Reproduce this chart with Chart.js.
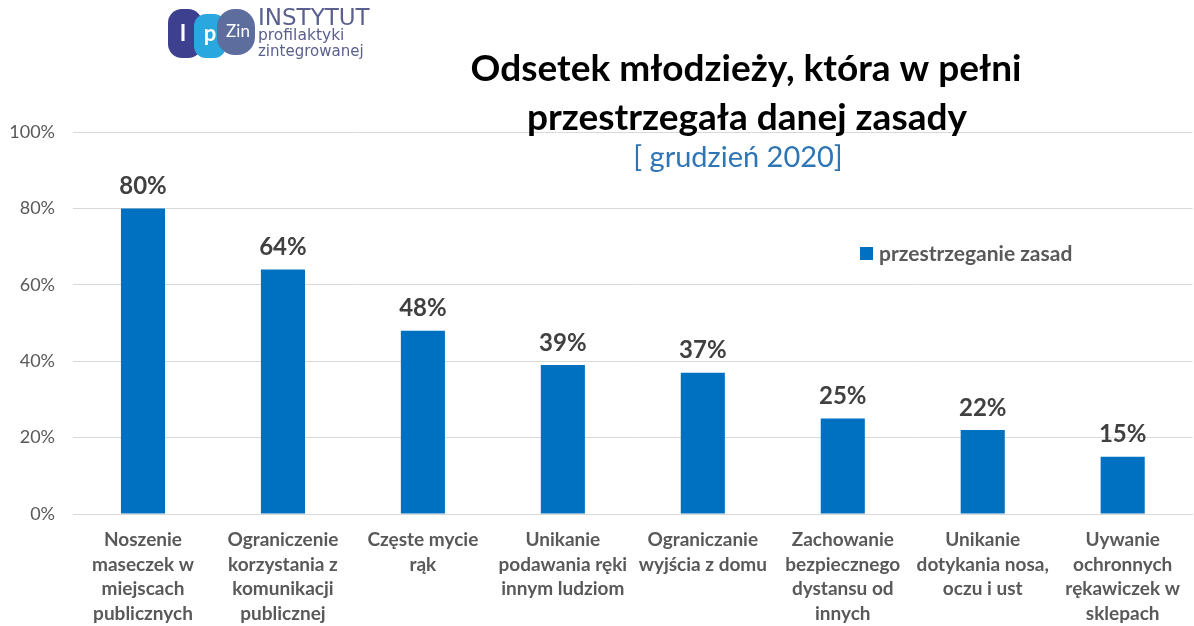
<!DOCTYPE html>
<html>
<head>
<meta charset="utf-8">
<script src="https://cdn.jsdelivr.net/npm/chart.js@4/dist/chart.umd.min.js"></script>
<style>
  html, body { margin: 0; padding: 0; background: #fff; }
  #wrap { width: 1194px; height: 626px; position: relative; }
</style>
</head>
<body>
<div id="wrap"><canvas id="chart"></canvas></div>
<script>
const categories = [
  ['Noszenie', 'maseczek w', 'miejscach', 'publicznych'],
  ['Ograniczenie', 'korzystania z', 'komunikacji', 'publicznej'],
  ['Częste mycie', 'rąk'],
  ['Unikanie', 'podawania ręki', 'innym ludziom'],
  ['Ograniczanie', 'wyjścia z domu'],
  ['Zachowanie', 'bezpiecznego', 'dystansu od', 'innych'],
  ['Unikanie', 'dotykania nosa,', 'oczu i ust'],
  ['Uywanie', 'ochronnych', 'rękawiczek w', 'sklepach']
];
const values = [80, 64, 48, 39, 37, 25, 22, 15];
const seriesName = 'przestrzeganie zasad';
const titleLines = ['Odsetek młodzieży, która w pełni', 'przestrzegała danej zasady'];
const subtitle = '[ grudzień 2020]';

const FONT = 'Lato, "Open Sans", sans-serif';
const BLUE = '#0070C0';

const decor = {
  id: 'decor',
  afterDatasetsDraw(chart) {
    const ctx = chart.ctx;
    const meta = chart.getDatasetMeta(0);
    ctx.save();
    // value labels above bars
    ctx.font = 'bold 24px ' + FONT;
    ctx.fillStyle = '#404040';
    ctx.textAlign = 'center';
    ctx.textBaseline = 'middle';
    meta.data.forEach((bar, i) => {
      ctx.fillText(values[i] + '%', bar.x, bar.y - 22);
    });
    ctx.restore();
  },
  afterDraw(chart) {
    const ctx = chart.ctx;
    ctx.save();
    // title
    ctx.fillStyle = '#000';
    ctx.textAlign = 'center';
    ctx.textBaseline = 'middle';
    ctx.font = 'bold 37px ' + FONT;
    ctx.fillText(titleLines[0], 746, 69);
    ctx.fillText(titleLines[1], 747, 118);
    ctx.font = '29px ' + FONT;
    ctx.fillStyle = '#2E75B6';
    ctx.fillText(subtitle, 738, 158);

    // legend
    const ds = chart.data.datasets[0];
    ctx.fillStyle = ds.backgroundColor;
    ctx.fillRect(860, 247, 13, 13);
    ctx.font = 'bold 21px ' + FONT;
    ctx.fillStyle = '#595959';
    ctx.textAlign = 'left';
    ctx.fillText(ds.label, 879, 254);

    // logo
    ctx.fillStyle = '#3d3f8f';
    ctx.beginPath(); ctx.roundRect(168, 9, 34, 49, 14); ctx.fill();
    ctx.fillStyle = '#2aa7df';
    ctx.beginPath(); ctx.roundRect(194, 14, 32, 44, 12); ctx.fill();
    ctx.fillStyle = '#5c6d9e';
    ctx.beginPath(); ctx.roundRect(217, 9, 38, 46, 18); ctx.fill();
    ctx.fillStyle = '#fff';
    ctx.font = 'bold 22px ' + FONT;
    ctx.textAlign = 'center';
    ctx.fillText('I', 183, 34);
    ctx.fillText('p', 210, 34);
    ctx.font = '17px ' + FONT;
    ctx.fillText('Zin', 238, 32);
    ctx.textAlign = 'left';
    ctx.fillStyle = '#5a5f8e';
    ctx.font = '23px "DejaVu Sans", sans-serif';
    ctx.fillText('INSTYTUT', 258, 19);
    ctx.font = '15.5px "DejaVu Sans", sans-serif';
    ctx.fillText('profilaktyki', 258, 36);
    ctx.font = '15px "DejaVu Sans", sans-serif';
    ctx.fillText('zintegrowanej', 258, 52);
    ctx.restore();
  }
};

new Chart(document.getElementById('chart'), {
  type: 'bar',
  data: {
    labels: categories,
    datasets: [{
      label: seriesName,
      data: values,
      backgroundColor: BLUE,
      borderWidth: 0,
      barPercentage: 0.315,
      categoryPercentage: 1
    }]
  },
  options: {
    responsive: true,
    maintainAspectRatio: false,
    animation: false,
    layout: { padding: { top: 132, right: 0, left: 0, bottom: 0 } },
    plugins: {
      legend: { display: false },
      tooltip: { enabled: false }
    },
    scales: {
      y: {
        min: 0,
        max: 100,
        ticks: {
          stepSize: 20,
          padding: 18,
          color: '#595959',
          font: { family: FONT, size: 18 },
          callback: v => v + '%'
        },
        grid: { color: '#d9d9d9', drawTicks: false },
        border: { display: false },
        afterFit(scale) { scale.width = 73; }
      },
      x: {
        ticks: {
          color: '#595959',
          padding: 14,
          maxRotation: 0,
          autoSkip: false,
          font: { family: FONT, size: 19, weight: 'bold', lineHeight: 1.29 }
        },
        grid: { display: false, drawTicks: false },
        border: { color: '#d9d9d9' },
        afterFit(scale) { scale.height = 112; }
      }
    }
  },
  plugins: [decor]
});
</script>
</body>
</html>
